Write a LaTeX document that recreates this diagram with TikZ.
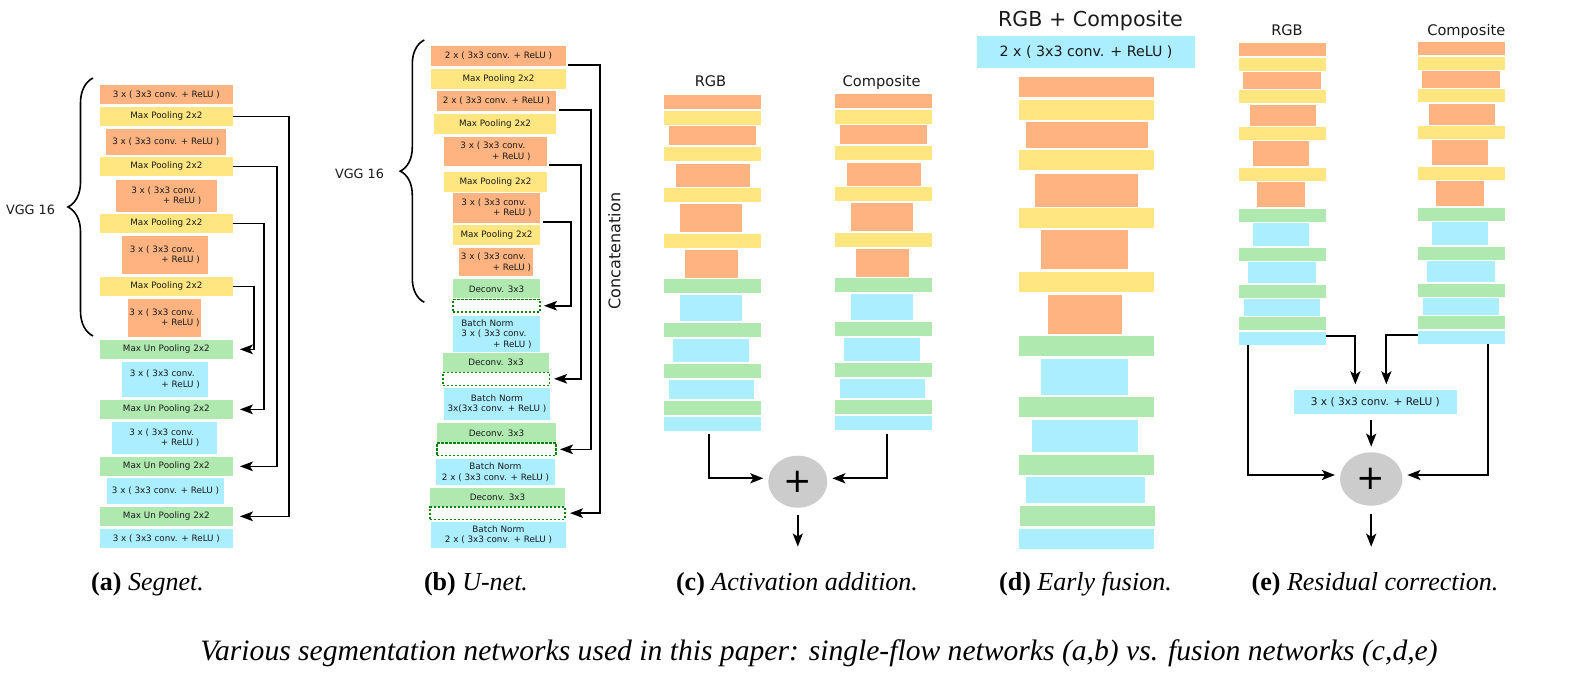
\documentclass[tikz,border=0pt]{standalone}
\usepackage{fontspec}
\setmainfont{DejaVu Sans}
\newfontfamily\capfont{Liberation Serif}
\usetikzlibrary{shapes.geometric,decorations.pathreplacing,arrows.meta,calc}
\definecolor{cOr}{HTML}{FFB380}
\definecolor{cYe}{HTML}{FFE680}
\definecolor{cGr}{HTML}{AFE9AF}
\definecolor{cBl}{HTML}{AAEEFF}
\definecolor{cGy}{HTML}{CCCCCC}
\definecolor{cDash}{HTML}{008000}
\definecolor{cTxt}{HTML}{1A1A1A}
\newcommand\bx[7]{\node[lay,#6,minimum width={(#4-#2)*0.5pt},minimum height={(#5-#3)*0.5pt}] (#1) at ({(#2+#4)/2},{(#3+#5)/2}) {#7};}
\newcommand\twol{3 x ( 3x3 conv.\\\hspace*{3.6em}+ ReLU )}
\newcommand\colC[1]{%
\bx{#1a}{664}{95}{760.7}{108.7}{orng}{}
\bx{#1b}{664}{111}{760.7}{124.7}{yllw}{}
\bx{#1c}{669}{126}{755.7}{144.7}{orng}{}
\bx{#1d}{664}{147}{760.7}{160.7}{yllw}{}
\bx{#1e}{676}{164}{750}{186.7}{orng}{}
\bx{#1f}{664}{188}{760.7}{201.7}{yllw}{}
\bx{#1g}{680}{204}{741.7}{231.7}{orng}{}
\bx{#1h}{664}{234}{760.7}{247.7}{yllw}{}
\bx{#1i}{685}{250}{738}{277.7}{orng}{}
\bx{#1j}{664}{279}{760.7}{292.7}{grn}{}
\bx{#1k}{680}{295}{741.7}{320.7}{blu}{}
\bx{#1l}{664}{323}{760.7}{336.7}{grn}{}
\bx{#1m}{673}{339}{749}{361.7}{blu}{}
\bx{#1n}{664}{364}{760.7}{377.7}{grn}{}
\bx{#1o}{669}{380}{754}{399}{blu}{}
\bx{#1p}{664}{401}{760.7}{414.7}{grn}{}
\bx{#1q}{664}{417}{760.7}{430.7}{blu}{}}
\newcommand\colE[1]{%
\bx{#1a}{1239}{43}{1325.7}{55.7}{orng}{}
\bx{#1b}{1239}{58}{1325.7}{70.7}{yllw}{}
\bx{#1c}{1243}{72}{1320.7}{88.7}{orng}{}
\bx{#1d}{1239}{90}{1325.7}{102.7}{yllw}{}
\bx{#1e}{1250}{105}{1315.7}{125.7}{orng}{}
\bx{#1f}{1239}{127}{1325.7}{139.7}{yllw}{}
\bx{#1g}{1253}{141}{1308.7}{165.7}{orng}{}
\bx{#1h}{1239}{168}{1325.7}{180.7}{yllw}{}
\bx{#1i}{1257}{182}{1304.7}{206.7}{orng}{}
\bx{#1j}{1239}{209}{1325.7}{221.7}{grn}{}
\bx{#1k}{1253}{223}{1308.7}{245.7}{blu}{}
\bx{#1l}{1239}{248}{1325.7}{260.7}{grn}{}
\bx{#1m}{1248}{262}{1315.7}{282.7}{blu}{}
\bx{#1n}{1239}{285}{1325.7}{297.7}{grn}{}
\bx{#1o}{1244}{299}{1319.7}{315.7}{blu}{}
\bx{#1p}{1239}{317}{1325.7}{329.7}{grn}{}
\bx{#1q}{1239}{332}{1325.7}{344.7}{blu}{}}
\begin{document}
\begin{tikzpicture}[x=0.5pt,y=-0.5pt,
  lay/.style={inner sep=0pt,outer sep=0pt,text=cTxt,font=\fontsize{4.4}{5.3}\selectfont,align=center},
  orng/.style={fill=cOr},
  yllw/.style={fill=cYe},
  grn/.style={fill=cGr},
  blu/.style={fill=cBl},
  dsh/.style={fill=white,draw=cDash,line width=0.6pt,dash pattern=on 1.2pt off 0.8pt},
  conn/.style={draw=black,line width=0.85pt,-{Stealth[length=6.5pt,width=4.8pt,inset=1.5pt]}},
  conn2/.style={draw=black,line width=1.1pt,-{Stealth[length=6.5pt,width=5pt,inset=1.5pt]}},
  brc/.style={draw=black,line width=0.8pt,decorate},
  lbl/.style={inner sep=0pt,text=cTxt},
  plusn/.style={ellipse,fill=cGy,inner sep=0pt,outer sep=0pt,text=black,font=\fontsize{17}{17}\selectfont},
  captext/.style={inner sep=0pt,anchor=base,text=black,font=\capfont\fontsize{13}{15}\selectfont}]
\fill[white] (0,0) rectangle (1586,680);
\useasboundingbox (0,0) rectangle (1586,680);

% ---------------- (a) Segnet
\bx{s1}{100}{85}{232.7}{103.7}{orng}{3 x ( 3x3 conv. + ReLU )}
\bx{s2}{100}{107}{232.7}{125.7}{yllw}{Max Pooling 2x2}
\bx{s3}{106}{129}{225.7}{155}{orng}{3 x ( 3x3 conv. + ReLU )}
\bx{s4}{100}{157}{232.7}{175.7}{yllw}{Max Pooling 2x2}
\bx{s5}{116}{180}{216.7}{211.7}{orng,align=left}{\twol}
\bx{s6}{100}{214.3}{232.7}{232.7}{yllw}{Max Pooling 2x2}
\bx{s7}{122}{236}{207.7}{273.7}{orng,align=left}{\twol}
\bx{s8}{100}{277}{232.7}{295.7}{yllw}{Max Pooling 2x2}
\bx{s9}{128}{299}{201}{336.7}{orng,align=left}{\twol}
\bx{s10}{100}{340}{232.7}{358.7}{grn}{Max Un Pooling 2x2}
\bx{s11}{122}{362}{207.7}{396.7}{blu,align=left}{\twol}
\bx{s12}{100}{400}{232.7}{418.7}{grn}{Max Un Pooling 2x2}
\bx{s13}{112}{422}{216.7}{453.7}{blu,align=left}{\twol}
\bx{s14}{100}{457}{232.7}{475.7}{grn}{Max Un Pooling 2x2}
\bx{s15}{107}{478.3}{224}{503.7}{blu}{3 x ( 3x3 conv. + ReLU )}
\bx{s16}{100}{507}{232.7}{525.7}{grn}{Max Un Pooling 2x2}
\bx{s17}{100}{529}{232.7}{547.7}{blu}{3 x ( 3x3 conv. + ReLU )}
\draw[conn] (s2.east) -- ++(56.6,0) |- ([xshift=3.6pt]s16.east);
\draw[conn] (s4.east) -- ++(44.6,0) |- ([xshift=3.6pt]s14.east);
\draw[conn] (s6.east) -- ++(31.3,0) |- ([xshift=3.6pt]s12.east);
\draw[conn] (s8.east) -- ++(21.6,0) |- ([xshift=3.6pt]s10.east);
\coordinate (bAt) at (93,78);
\coordinate (bAb) at (93,336);
\draw[brc,decoration={brace,amplitude=12.5pt}] (bAb) -- (bAt);
\node[lbl,anchor=base,font=\fontsize{6.4}{7}\selectfont] (vggA) at (30.5,214.6) {VGG 16};

% ---------------- (b) U-net
\bx{u1}{431}{46}{566}{65.7}{orng}{2 x ( 3x3 conv. + ReLU )}
\bx{u2}{431}{69.3}{566}{88.7}{yllw}{Max Pooling 2x2}
\bx{u3}{437}{91}{556}{110.7}{orng}{2 x ( 3x3 conv. + ReLU )}
\bx{u4}{434}{114}{556}{133.7}{yllw}{Max Pooling 2x2}
\bx{u5}{444}{137}{547}{166}{orng,align=left}{\twol}
\bx{u6}{444}{172}{547}{191.7}{yllw}{Max Pooling 2x2}
\bx{u7}{453}{193}{540}{222.7}{orng,align=left}{\twol}
\bx{u8}{453}{225}{540}{244.7}{yllw}{Max Pooling 2x2}
\bx{u9}{459}{248}{533}{276}{orng,align=left}{\twol}
\bx{u10}{453}{279.3}{540}{298.3}{grn}{Deconv. 3x3}
\bx{u11}{453}{299.5}{540}{312}{dsh}{}
\bx{u12}{453}{316}{540}{351.7}{blu,align=left}{Batch Norm\\\twol}
\bx{u13}{443}{353.3}{549}{371.7}{grn}{Deconv. 3x3}
\bx{u14}{443}{372.3}{549.7}{385.3}{dsh}{}
\bx{u15}{444}{388}{550}{419.7}{blu}{Batch Norm\\3x(3x3 conv. + ReLU )}
\bx{u16}{437}{423.3}{556}{442.3}{grn}{Deconv. 3x3}
\bx{u17}{437}{443}{556}{455.7}{dsh}{}
\bx{u18}{436}{459}{555}{485}{blu}{Batch Norm\\2 x ( 3x3 conv. + ReLU )}
\bx{u19}{430}{488.3}{565}{506.7}{grn}{Deconv. 3x3}
\bx{u20}{430}{507}{565}{519.3}{dsh}{}
\bx{u21}{431}{521.7}{566}{547.7}{blu}{Batch Norm\\2 x ( 3x3 conv. + ReLU )}
\draw[conn] ([xshift=1pt,yshift=0.4pt]u1.south east) -- ++(32,0) |- ([xshift=2.5pt]u20.east);
\draw[conn] ([xshift=1.5pt,yshift=0.4pt]u3.south east) -- ++(31.7,0) |- ([xshift=2pt]u17.east);
\draw[conn] ([xshift=1pt,yshift=0.4pt]u5.south east) -- ++(32,0) |- ([xshift=2.2pt]u14.east);
\draw[conn] ([xshift=1.35pt,yshift=0.4pt]u7.south east) -- ++(28.6,0) |- ([xshift=2pt]u11.east);
\coordinate (bBt) at (424.3,40);
\coordinate (bBb) at (424.3,302.3);
\draw[brc,decoration={brace,amplitude=12pt}] (bBb) -- (bBt);
\node[lbl,anchor=base,font=\fontsize{6.4}{7}\selectfont] (vggB) at (359.5,178.3) {VGG 16};
\node[lbl,rotate=90,font=\fontsize{8}{9}\selectfont] (concat) at (614.5,251) {Concatenation};

% ---------------- (c) Activation addition
\colC{cl}
\begin{scope}[shift={(171,-1)}]
\colC{cr}
\end{scope}
\node[lbl,anchor=base,font=\fontsize{7.3}{8}\selectfont] (cRGB) at (710.5,86) {RGB};
\node[lbl,anchor=base,font=\fontsize{7.3}{8}\selectfont] (cComp) at (881.7,86) {Composite};
\node[plusn,minimum width=29.5pt,minimum height=26pt] (cplus) at (797.8,481.7) {+};
\draw[conn2] ([xshift=-1.5pt,yshift=-1.6pt]clq.south) |- ([xshift=-2.5pt,yshift=1.7pt]cplus.west);
\draw[conn2] ([xshift=1.8pt,yshift=-2.1pt]crq.south) |- ([xshift=2.5pt,yshift=1.7pt]cplus.east);
\draw[conn2] ([yshift=-3.6pt]cplus.south) -- ++(0,31.7);

% ---------------- (d) Early fusion
\node[lbl,anchor=base,font=\fontsize{10.3}{12}\selectfont] (dTitle) at (1090.5,26) {RGB + Composite};
\bx{d0}{977}{36}{1195}{67.7}{blu,font=\fontsize{7.1}{8}\selectfont}{2 x ( 3x3 conv. + ReLU )}
\bx{d1}{1019}{77}{1154}{97}{orng}{}
\bx{d2}{1019}{100}{1154}{119.7}{yllw}{}
\bx{d3}{1026}{122}{1148}{147.7}{orng}{}
\bx{d4}{1019}{150}{1154}{169.7}{yllw}{}
\bx{d5}{1035}{174}{1138}{206.7}{orng}{}
\bx{d6}{1019}{208}{1154}{227.7}{yllw}{}
\bx{d7}{1041}{230}{1128}{268.7}{orng}{}
\bx{d8}{1019}{272}{1154}{291.7}{yllw}{}
\bx{d9}{1048}{295}{1122}{333.7}{orng}{}
\bx{d10}{1019}{336}{1154}{355.7}{grn}{}
\bx{d11}{1041}{359}{1128}{394.7}{blu}{}
\bx{d12}{1019}{397}{1154}{416.7}{grn}{}
\bx{d13}{1032}{420}{1138}{451.7}{blu}{}
\bx{d14}{1019}{455}{1154}{474.7}{grn}{}
\bx{d15}{1026}{477}{1145}{502.7}{blu}{}
\bx{d16}{1020}{506}{1155}{525.7}{grn}{}
\bx{d17}{1019}{529}{1154}{548.7}{blu}{}

% ---------------- (e) Residual correction
\colE{el}
\begin{scope}[shift={(179,-1)}]
\colE{er}
\end{scope}
\node[lbl,anchor=base,font=\fontsize{7.3}{8}\selectfont] (eRGB) at (1287,35) {RGB};
\node[lbl,anchor=base,font=\fontsize{7.3}{8}\selectfont] (eComp) at (1466.3,35) {Composite};
\bx{em}{1294}{390}{1456.7}{413.7}{blu,font=\fontsize{5.3}{6}\selectfont}{3 x ( 3x3 conv. + ReLU )}
\node[plusn,minimum width=31.2pt,minimum height=26.7pt] (eplus) at (1371.2,479) {+};
\draw[conn2] ([yshift=1.3pt]elq.east) -| ([xshift=-10pt,yshift=2.8pt]em.north);
\draw[conn2] ([yshift=1pt]erq.west) -| ([xshift=5.5pt,yshift=2.8pt]em.north);
\draw[conn2] ($(em.south -| eplus.north)+(0,6.3)$) -- ([yshift=2.8pt]eplus.north);
\draw[conn2] ([xshift=4.35pt]elq.south west) |- ([xshift=-2.5pt,yshift=2pt]eplus.west);
\draw[conn2] ([xshift=-8.5pt]erq.south east) |- ([xshift=2.5pt,yshift=2pt]eplus.east);
\draw[conn2] ([yshift=-4.2pt]eplus.south) -- ++(0,32.7);

% ---------------- captions
\node[captext] (capA) at (147.5,590.7) {{\bfseries (a)} {\itshape Segnet.}};
\node[captext] (capB) at (476,590.7) {{\bfseries (b)} {\itshape U-net.}};
\node[captext] (capC) at (797,590.7) {{\bfseries (c)} {\itshape Activation addition.}};
\node[captext] (capD) at (1085.5,590.7) {{\bfseries (d)} {\itshape Early fusion.}};
\node[captext] (capE) at (1375,590.7) {{\bfseries (e)} {\itshape Residual correction.}};
\node[captext,font=\capfont\itshape\fontsize{14.8}{17}\selectfont] (mainCap) at (819,660) {Various segmentation networks used in this paper: single-flow networks (a,b) vs. fusion networks (c,d,e)};
\end{tikzpicture}
\end{document}
